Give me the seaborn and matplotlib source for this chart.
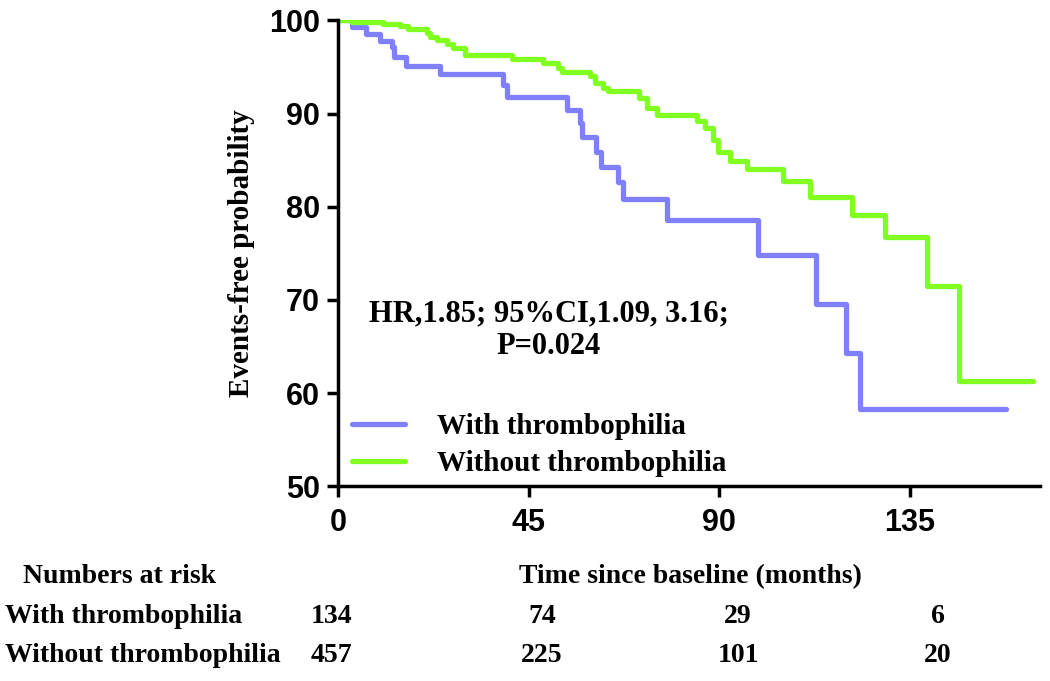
import numpy as np
import pandas as pd
import matplotlib
matplotlib.use("Agg")
import matplotlib.pyplot as plt
import seaborn as sns

sns.set_style("ticks")
plt.rcParams["font.family"] = ["Liberation Sans", "DejaVu Sans"]
plt.rcParams.update({"text.color": "black", "axes.labelcolor": "black",
                     "xtick.color": "black", "ytick.color": "black"})

# Kaplan-Meier steps (months, % event-free)
with_t = [0, 3.2, 6.6, 9.9, 12.7, 13.2, 16.0, 24.1, 38.9, 39.8, 54.0, 57.1, 57.6,
          61.0, 62.2, 66.1, 67.3, 77.6, 99.1, 113.0, 119.9, 123.4, 157.9]
with_s = [100, 99.3, 98.5, 97.8, 97.1, 96.1, 95.1, 94.2, 93.1, 91.8, 90.4, 89.0, 87.5,
          85.9, 84.3, 82.7, 80.8, 78.6, 74.8, 69.6, 64.3, 58.3, 58.3]
without_t = [0, 3.2, 10.6, 14.6, 16.5, 21.0, 21.7, 23.3, 25.7, 27.1, 30.0, 41.1, 48.4,
             51.9, 52.9, 59.5, 60.7, 62.5, 63.7, 71.0, 72.9, 75.3, 84.7, 86.6, 88.5,
             89.7, 92.5, 96.5, 105.0, 111.4, 121.5, 129.3, 139.2, 146.8, 164.2]
without_s = [100, 99.8, 99.6, 99.4, 99.1, 98.6, 98.2, 97.9, 97.5, 97.0, 96.3, 95.9, 95.4,
             94.9, 94.5, 94.0, 93.3, 92.7, 92.4, 91.7, 90.6, 89.9, 89.2, 88.5, 87.2,
             85.9, 84.9, 84.0, 82.8, 81.1, 79.1, 76.7, 71.5, 61.3, 61.3]

groups = ["With thrombophilia", "Without thrombophilia"]
colors = ["#8080FF", "#80FF20"]
x_ticks = [0, 45, 90, 135]
y_ticks = [50, 60, 70, 80, 90, 100]
risk_with = ["134", "74", "29", "6"]
risk_without = ["457", "225", "101", "20"]

df = pd.concat([
    pd.DataFrame({"time": with_t, "surv": with_s, "group": groups[0]}),
    pd.DataFrame({"time": without_t, "surv": without_s, "group": groups[1]}),
])

fig = plt.figure(figsize=(10.5, 6.81), dpi=100)
ax = fig.add_axes([0.322, 0.286, 0.668, 0.684])

sns.lineplot(data=df, x="time", y="surv", hue="group", palette=colors,
             estimator=None, sort=False, drawstyle="steps-post",
             linewidth=3.8, ax=ax, legend=False)

ax.set_xlim(0, 165.7)
ax.set_ylim(50, 100)
ax.set_xticks(x_ticks)
ax.set_yticks(y_ticks)
ax.set_xlabel("")
ax.set_ylabel("Events-free probability", family="Liberation Serif",
              fontweight="bold", fontsize=21, labelpad=10)
for lab in ax.get_xticklabels() + ax.get_yticklabels():
    lab.set_fontweight("bold")
    lab.set_fontsize(22)
ax.tick_params(axis="both", width=2.5, length=8, color="black")
ax.tick_params(axis="x", pad=8)
ax.tick_params(axis="y", pad=5)
for side in ["top", "right"]:
    ax.spines[side].set_visible(False)
for side in ["left", "bottom"]:
    ax.spines[side].set_linewidth(2.5)
    ax.spines[side].set_color("black")

handles = [plt.Line2D([], [], color=c, lw=3.8) for c in colors]
ax.legend(handles, groups, loc="lower left", bbox_to_anchor=(0.02, 0.02),
          borderaxespad=0, borderpad=0, frameon=False, handlelength=1.8,
          handletextpad=1.1, labelspacing=0.35,
          prop={"family": "Liberation Serif", "weight": "bold", "size": 21})

ax.text(0.30, 0.335, "HR,1.85; 95%CI,1.09, 3.16;\nP=0.024", transform=ax.transAxes,
        ha="center", va="center", family="Liberation Serif", fontweight="bold",
        fontsize=22, linespacing=1.2)

# numbers at risk table
serif = dict(family="Liberation Serif", fontweight="bold", fontsize=20)
fig.text(0.022, 0.153, "Numbers at risk", ha="left", va="center", **serif)
fig.text(0.658, 0.153, "Time since baseline (months)", ha="center", va="center", **serif)
fig.text(0.005, 0.094, groups[0], ha="left", va="center", **serif)
fig.text(0.005, 0.037, groups[1], ha="left", va="center", **serif)
col_x = [0.316, 0.516, 0.703, 0.893]
for cx, a, b in zip(col_x, risk_with, risk_without):
    fig.text(cx, 0.094, a, ha="center", va="center", **serif)
    fig.text(cx, 0.037, b, ha="center", va="center", **serif)

fig.savefig("out.png", dpi=100)
